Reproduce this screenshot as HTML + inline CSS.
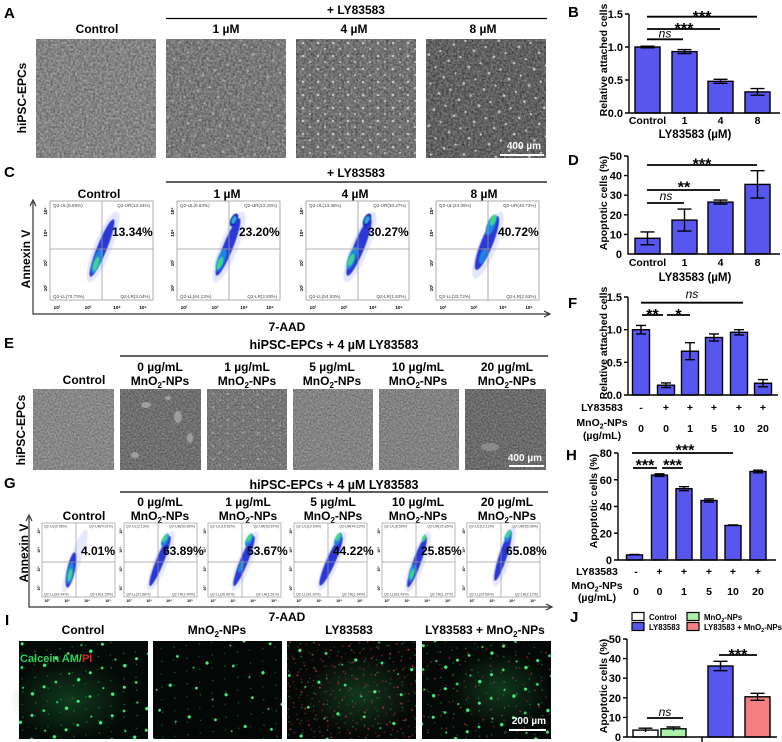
<!DOCTYPE html>
<html><head><meta charset="utf-8"><title>figure</title>
<style>
html,body{margin:0;padding:0;background:#fff}
svg{display:block}
text{font-family:"Liberation Sans",Arial,Helvetica,sans-serif;font-weight:bold;fill:#000}
.hd{font-size:12px}
.hd2{font-size:12.5px}
.pl{font-size:15px}
.tk{font-size:11px}
.xl{font-size:10.5px}
.yl{font-size:10.5px}
.ns{font-size:12px;font-style:italic;font-weight:normal}
.st{font-size:16px}
.q{font-size:4.6px;font-weight:normal;fill:#444}
.q2{font-size:3.6px;font-weight:normal;fill:#444}
.ti{font-size:4.6px;font-weight:normal;fill:#555}
.ti2{font-size:3.6px;font-weight:normal;fill:#555}
.pc{font-size:12px}
.pc2{font-size:12px}
.sb{font-size:10px;fill:#fff}
.lg{font-size:7.8px}
</style></head><body>
<svg width="782" height="742" viewBox="0 0 782 742" xmlns="http://www.w3.org/2000/svg">
<defs>
<filter id="nz" x="0" y="0" width="1" height="1" color-interpolation-filters="sRGB">
<feTurbulence type="fractalNoise" baseFrequency="0.45" numOctaves="2" seed="3"/>
<feColorMatrix type="matrix" values="1.6 0 0 0 -0.3  1.6 0 0 0 -0.3  1.6 0 0 0 -0.3  0 0 0 0 0.28"/>
</filter>
<filter id="nz2" x="0" y="0" width="1" height="1" color-interpolation-filters="sRGB">
<feTurbulence type="fractalNoise" baseFrequency="0.6" numOctaves="2" seed="7"/>
<feColorMatrix type="matrix" values="1.6 0 0 0 -0.3  1.6 0 0 0 -0.3  1.6 0 0 0 -0.3  0 0 0 0 0.25"/>
</filter>
<filter id="bl" x="-20%" y="-20%" width="140%" height="140%"><feGaussianBlur stdDeviation="0.6"/></filter>
<pattern id="wd" width="15" height="13" patternUnits="userSpaceOnUse">
<circle cx="3" cy="4" r="1.3" fill="#e6e6e6"/><circle cx="10" cy="10" r="1.1" fill="#d2d2d2"/><circle cx="12" cy="2" r="0.8" fill="#222"/>
</pattern>
<pattern id="wd2" width="21" height="17" patternUnits="userSpaceOnUse" patternTransform="rotate(17)">
<circle cx="6" cy="12" r="1.4" fill="#dcdcdc"/><circle cx="16" cy="5" r="1.1" fill="#eee"/><circle cx="2" cy="3" r="0.8" fill="#1a1a1a"/>
</pattern>
<pattern id="ga" width="37" height="31" patternUnits="userSpaceOnUse" patternTransform="rotate(23)">
<circle cx="5" cy="6" r="1.7" fill="#3df27a"/><circle cx="22" cy="17" r="1.4" fill="#33e56a"/><circle cx="31" cy="4" r="1.1" fill="#2bd060"/><circle cx="13" cy="26" r="1.5" fill="#45f585"/>
</pattern>
<pattern id="gc" width="43" height="37" patternUnits="userSpaceOnUse" patternTransform="rotate(-31)">
<circle cx="8" cy="9" r="1.6" fill="#3df27a"/><circle cx="29" cy="25" r="1.4" fill="#40f080"/><circle cx="37" cy="6" r="1.0" fill="#2bd060"/>
</pattern>
<pattern id="gb" width="17" height="19" patternUnits="userSpaceOnUse" patternTransform="rotate(41)">
<circle cx="3" cy="4" r="0.7" fill="#1c8a3a"/><circle cx="12" cy="13" r="0.8" fill="#23a048"/>
</pattern>
<pattern id="ra" width="13" height="11" patternUnits="userSpaceOnUse" patternTransform="rotate(29)">
<circle cx="2" cy="3" r="0.8" fill="#c53030"/><circle cx="8" cy="8" r="0.7" fill="#a82828"/>
</pattern>
<pattern id="rb" width="19" height="17" patternUnits="userSpaceOnUse" patternTransform="rotate(-13)">
<circle cx="5" cy="11" r="0.9" fill="#e04040"/><circle cx="14" cy="3" r="0.8" fill="#b83434"/>
</pattern>
<radialGradient id="hz"><stop offset="0" stop-color="#1d6a30" stop-opacity=".5"/><stop offset="1" stop-color="#1d6a30" stop-opacity="0"/></radialGradient>
</defs>
<rect width="782" height="742" fill="#fff"/>

<!-- ===== Panel A ===== -->
<text class="pl" x="4" y="18">A</text>
<text class="hd" x="356" y="14" text-anchor="middle">+ LY83583</text>
<line x1="166" y1="18.5" x2="547" y2="18.5" stroke="#000" stroke-width="1.2"/>
<g class="hd" text-anchor="middle">
<text x="97" y="33">Control</text><text x="226" y="33">1 µM</text><text x="354" y="33">4 µM</text><text x="483" y="33">8 µM</text>
</g>
<text class="hd" transform="translate(26,98) rotate(-90)" text-anchor="middle">hiPSC-EPCs</text>
<rect x="36" y="39" width="120" height="119" fill="#858585"/><rect x="36" y="39" width="120" height="119" filter="url(#nz)"/>
<rect x="166" y="39" width="120" height="119" fill="#767676"/><rect x="166" y="39" width="120" height="119" filter="url(#nz)"/>
<rect x="166" y="39" width="120" height="119" fill="url(#wd2)" opacity=".4"/>
<rect x="296" y="39" width="120" height="119" fill="#6c6c6c"/><rect x="296" y="39" width="120" height="119" filter="url(#nz)"/>
<rect x="296" y="39" width="120" height="119" fill="url(#wd)" opacity=".7"/>
<rect x="426" y="39" width="120" height="119" fill="#545454"/><rect x="426" y="39" width="120" height="119" filter="url(#nz)"/>
<rect x="426" y="39" width="120" height="119" fill="url(#wd2)" opacity=".75"/>
<text class="sb" x="541" y="149" text-anchor="end">400 µm</text>
<line x1="500" y1="155" x2="544" y2="155" stroke="#fff" stroke-width="2"/>

<!-- ===== Panel C ===== -->
<text class="pl" x="4" y="177">C</text>
<text class="hd" x="356" y="177" text-anchor="middle">+ LY83583</text>
<line x1="166" y1="182" x2="547" y2="182" stroke="#000" stroke-width="1.2"/>
<g class="hd" text-anchor="middle">
<text x="99" y="198">Control</text><text x="227" y="198">1 µM</text><text x="355" y="198">4 µM</text><text x="484" y="198">8 µM</text>
</g>
<path d="M33,202V314H549" fill="none" stroke="#333" stroke-width="1.2"/>
<path d="M30,206L33,200L36,206M544,311L550,314L544,317" fill="none" stroke="#333" stroke-width="1.2"/>
<text class="hd" transform="translate(30,259) rotate(-90)" text-anchor="middle">Annexin V</text>
<text class="hd" x="287" y="331" text-anchor="middle">7-AAD</text>

<g transform="translate(50,201)">
<rect width="103" height="99" fill="#fff" stroke="#999" stroke-width=".8"/>
<g filter="url(#bl)">
<ellipse cx="53" cy="46" rx="9" ry="38" transform="rotate(22 53 46)" fill="#a3aeff" opacity=".3"/>
<ellipse cx="52" cy="47" rx="5" ry="31" transform="rotate(22 52 47)" fill="#2b38d8"/>
<ellipse cx="47" cy="60" rx="3.8" ry="13" transform="rotate(20 47 60)" fill="#1f86e0"/>
<ellipse cx="46" cy="63" rx="2.4" ry="7.5" transform="rotate(20 46 63)" fill="#3fd68a"/>
</g>
<path d="M52,0V99M0,48H103" stroke="#9a9a9a" stroke-width=".8"/>
<text class="q" x="3" y="6">Q2-UL(9.89%)</text><text class="q" x="100" y="6" text-anchor="end">Q2-UR(13.34%)</text>
<text class="q" x="3" y="97">Q2-LL(73.73%)</text><text class="q" x="100" y="97" text-anchor="end">Q2-LR(3.04%)</text>
<text class="pc" x="62" y="35">13.34%</text>
<g class="ti" text-anchor="middle">
<text transform="translate(-3,10) rotate(-90)">10⁵</text><text transform="translate(-3,32) rotate(-90)">10⁴</text><text transform="translate(-3,62) rotate(-90)">10³</text><text transform="translate(-3,87) rotate(-90)">10²</text>
<text x="7" y="108">10²</text><text x="38" y="108">10³</text><text x="67" y="108">10⁴</text><text x="93" y="108">10⁵</text>
</g>
</g>

<g transform="translate(177,201)">
<rect width="103" height="99" fill="#fff" stroke="#999" stroke-width=".8"/>
<g filter="url(#bl)">
<ellipse cx="52" cy="46" rx="9" ry="38" transform="rotate(22 52 46)" fill="#a3aeff" opacity=".3"/>
<ellipse cx="51" cy="46" rx="5" ry="31" transform="rotate(22 51 46)" fill="#2b38d8"/>
<ellipse cx="44" cy="59" rx="3.8" ry="12" transform="rotate(20 44 59)" fill="#1f86e0"/>
<ellipse cx="43" cy="62" rx="2.4" ry="6.5" transform="rotate(20 43 62)" fill="#3fd68a"/>
<ellipse cx="57" cy="19" rx="3.5" ry="7" transform="rotate(25 57 19)" fill="#1626c0"/>
<ellipse cx="57" cy="19" rx="2" ry="4" transform="rotate(25 57 19)" fill="#2fb0d0"/>
</g>
<path d="M52,0V99M0,48H103" stroke="#9a9a9a" stroke-width=".8"/>
<text class="q" x="3" y="6">Q2-UL(9.83%)</text><text class="q" x="100" y="6" text-anchor="end">Q2-UR(23.20%)</text>
<text class="q" x="3" y="97">Q2-LL(64.13%)</text><text class="q" x="100" y="97" text-anchor="end">Q2-LR(2.83%)</text>
<text class="pc" x="62" y="35">23.20%</text>
<g class="ti" text-anchor="middle">
<text transform="translate(-3,10) rotate(-90)">10⁵</text><text transform="translate(-3,32) rotate(-90)">10⁴</text><text transform="translate(-3,62) rotate(-90)">10³</text><text transform="translate(-3,87) rotate(-90)">10²</text>
<text x="7" y="108">10²</text><text x="38" y="108">10³</text><text x="67" y="108">10⁴</text><text x="93" y="108">10⁵</text>
</g>
</g>

<g transform="translate(306,201)">
<rect width="103" height="99" fill="#fff" stroke="#999" stroke-width=".8"/>
<g filter="url(#bl)">
<ellipse cx="54" cy="46" rx="9" ry="38" transform="rotate(22 54 46)" fill="#a3aeff" opacity=".3"/>
<ellipse cx="53" cy="46" rx="5.5" ry="31" transform="rotate(22 53 46)" fill="#2b38d8"/>
<ellipse cx="46" cy="57" rx="3.8" ry="12" transform="rotate(20 46 57)" fill="#1f86e0"/>
<ellipse cx="45" cy="59" rx="2.4" ry="6.5" transform="rotate(20 45 59)" fill="#3fd68a"/>
<ellipse cx="61" cy="19" rx="3.5" ry="7" transform="rotate(25 61 19)" fill="#1626c0"/>
<ellipse cx="61" cy="19" rx="2" ry="4" transform="rotate(25 61 19)" fill="#2fb0d0"/>
</g>
<path d="M52,0V99M0,48H103" stroke="#9a9a9a" stroke-width=".8"/>
<text class="q" x="3" y="6">Q2-UL(13.38%)</text><text class="q" x="100" y="6" text-anchor="end">Q2-UR(30.27%)</text>
<text class="q" x="3" y="97">Q2-LL(54.53%)</text><text class="q" x="100" y="97" text-anchor="end">Q2-LR(1.82%)</text>
<text class="pc" x="62" y="35">30.27%</text>
<g class="ti" text-anchor="middle">
<text transform="translate(-3,10) rotate(-90)">10⁵</text><text transform="translate(-3,32) rotate(-90)">10⁴</text><text transform="translate(-3,62) rotate(-90)">10³</text><text transform="translate(-3,87) rotate(-90)">10²</text>
<text x="7" y="108">10²</text><text x="38" y="108">10³</text><text x="67" y="108">10⁴</text><text x="93" y="108">10⁵</text>
</g>
</g>

<g transform="translate(436,201)">
<rect width="103" height="99" fill="#fff" stroke="#999" stroke-width=".8"/>
<g filter="url(#bl)">
<ellipse cx="52" cy="44" rx="9" ry="36" transform="rotate(22 52 44)" fill="#a3aeff" opacity=".3"/>
<ellipse cx="51" cy="42" rx="6" ry="29" transform="rotate(22 51 42)" fill="#2b38d8"/>
<ellipse cx="55" cy="24" rx="4" ry="11" transform="rotate(22 55 24)" fill="#1f86e0"/>
<ellipse cx="57" cy="19" rx="2.6" ry="6" transform="rotate(22 57 19)" fill="#3fd68a"/>
<ellipse cx="47" cy="55" rx="3" ry="8" transform="rotate(20 47 55)" fill="#1f86e0"/>
</g>
<path d="M52,0V99M0,48H103" stroke="#9a9a9a" stroke-width=".8"/>
<text class="q" x="3" y="6">Q2-UL(23.05%)</text><text class="q" x="100" y="6" text-anchor="end">Q2-UR(40.72%)</text>
<text class="q" x="3" y="97">Q2-LL(33.72%)</text><text class="q" x="100" y="97" text-anchor="end">Q2-LR(2.52%)</text>
<text class="pc" x="62" y="35">40.72%</text>
<g class="ti" text-anchor="middle">
<text transform="translate(-3,10) rotate(-90)">10⁵</text><text transform="translate(-3,32) rotate(-90)">10⁴</text><text transform="translate(-3,62) rotate(-90)">10³</text><text transform="translate(-3,87) rotate(-90)">10²</text>
<text x="7" y="108">10²</text><text x="38" y="108">10³</text><text x="67" y="108">10⁴</text><text x="93" y="108">10⁵</text>
</g>
</g>

<!-- ===== Panel E ===== -->
<text class="pl" x="4" y="348">E</text>
<text class="hd2" x="334" y="349" text-anchor="middle">hiPSC-EPCs + 4 µM LY83583</text>
<line x1="120" y1="356" x2="548" y2="356" stroke="#000" stroke-width="1.2"/>
<g class="hd" text-anchor="middle">
<text x="84" y="384">Control</text>
<text x="160" y="371">0 µg/mL</text><text x="160" y="385">MnO<tspan font-size="8" dy="3">2</tspan><tspan dy="-3">-NPs</tspan></text>
<text x="247" y="371">1 µg/mL</text><text x="247" y="385">MnO<tspan font-size="8" dy="3">2</tspan><tspan dy="-3">-NPs</tspan></text>
<text x="332" y="371">5 µg/mL</text><text x="332" y="385">MnO<tspan font-size="8" dy="3">2</tspan><tspan dy="-3">-NPs</tspan></text>
<text x="418" y="371">10 µg/mL</text><text x="418" y="385">MnO<tspan font-size="8" dy="3">2</tspan><tspan dy="-3">-NPs</tspan></text>
<text x="507" y="371">20 µg/mL</text><text x="507" y="385">MnO<tspan font-size="8" dy="3">2</tspan><tspan dy="-3">-NPs</tspan></text>
</g>
<text class="hd" transform="translate(25,430) rotate(-90)" text-anchor="middle">hiPSC-EPCs</text>
<rect x="33" y="389" width="81" height="81" fill="#898989"/><rect x="33" y="389" width="81" height="81" filter="url(#nz2)"/>
<rect x="120" y="389" width="81" height="81" fill="#6a6a6a"/><rect x="120" y="389" width="81" height="81" filter="url(#nz2)"/>
<g fill="#b0b0b0" opacity=".7"><ellipse cx="146" cy="405" rx="5" ry="3"/><ellipse cx="178" cy="417" rx="4" ry="6"/><ellipse cx="190" cy="438" rx="3" ry="5"/><ellipse cx="135" cy="455" rx="4" ry="3"/><ellipse cx="168" cy="398" rx="3" ry="2"/></g>
<rect x="207" y="389" width="80" height="81" fill="#747474"/><rect x="207" y="389" width="80" height="81" filter="url(#nz2)"/>
<rect x="207" y="389" width="80" height="81" fill="url(#wd)" opacity=".3"/>
<rect x="293" y="389" width="80" height="81" fill="#858585"/><rect x="293" y="389" width="80" height="81" filter="url(#nz2)"/>
<rect x="379" y="389" width="80" height="81" fill="#838383"/><rect x="379" y="389" width="80" height="81" filter="url(#nz2)"/>
<rect x="465" y="389" width="81" height="81" fill="#646464"/><rect x="465" y="389" width="81" height="81" filter="url(#nz2)"/>
<ellipse cx="490" cy="447" rx="9" ry="4" fill="#aaa" opacity=".5"/>
<text class="sb" x="542" y="461" text-anchor="end">400 µm</text>
<line x1="509" y1="466" x2="544" y2="466" stroke="#fff" stroke-width="2"/>

<!-- ===== Panel G ===== -->
<text class="pl" x="4" y="488">G</text>
<text class="hd2" x="334" y="489" text-anchor="middle">hiPSC-EPCs + 4 µM LY83583</text>
<line x1="120" y1="492" x2="548" y2="492" stroke="#000" stroke-width="1.2"/>
<g class="hd" text-anchor="middle">
<text x="84" y="520">Control</text>
<text x="160" y="506">0 µg/mL</text><text x="160" y="520">MnO<tspan font-size="8" dy="3">2</tspan><tspan dy="-3">-NPs</tspan></text>
<text x="248" y="506">1 µg/mL</text><text x="248" y="520">MnO<tspan font-size="8" dy="3">2</tspan><tspan dy="-3">-NPs</tspan></text>
<text x="333" y="506">5 µg/mL</text><text x="333" y="520">MnO<tspan font-size="8" dy="3">2</tspan><tspan dy="-3">-NPs</tspan></text>
<text x="418" y="506">10 µg/mL</text><text x="418" y="520">MnO<tspan font-size="8" dy="3">2</tspan><tspan dy="-3">-NPs</tspan></text>
<text x="507" y="506">20 µg/mL</text><text x="507" y="520">MnO<tspan font-size="8" dy="3">2</tspan><tspan dy="-3">-NPs</tspan></text>
</g>
<path d="M29,517V607H551" fill="none" stroke="#333" stroke-width="1.2"/>
<path d="M26,521L29,515L32,521M546,604L552,607L546,610" fill="none" stroke="#333" stroke-width="1.2"/>
<text class="hd" transform="translate(28,553) rotate(-90)" text-anchor="middle">Annexin V</text>
<text class="hd" x="287" y="621" text-anchor="middle">7-AAD</text>

<g transform="translate(42,523)">
<rect width="73" height="74" fill="#fff" stroke="#999" stroke-width=".7"/>
<g filter="url(#bl)">
<ellipse cx="33" cy="38" rx="6" ry="33" transform="rotate(20 33 38)" fill="#a3aeff" opacity=".28"/>
<ellipse cx="29" cy="47" rx="4" ry="18" transform="rotate(12 29 47)" fill="#2b38d8"/>
<ellipse cx="28" cy="50" rx="3" ry="11" transform="rotate(10 28 50)" fill="#1f86e0"/>
<ellipse cx="28" cy="52" rx="2" ry="6.5" transform="rotate(10 28 52)" fill="#3fd68a"/>
</g>
<path d="M34,0V74M0,39H73" stroke="#9a9a9a" stroke-width=".7"/>
<text class="q2" x="2" y="4.5">Q2-UL(0.96%)</text><text class="q2" x="71" y="4.5" text-anchor="end">Q2-UR(4.01%)</text>
<text class="q2" x="2" y="72.5">Q2-LL(93.44%)</text><text class="q2" x="71" y="72.5" text-anchor="end">Q2-LR(1.59%)</text>
<text class="pc2" x="39" y="32">4.01%</text>
<g class="ti2" text-anchor="middle"><text transform="translate(-2,8) rotate(-90)">10⁵</text><text transform="translate(-2,27) rotate(-90)">10⁴</text><text transform="translate(-2,46) rotate(-90)">10³</text><text transform="translate(-2,65) rotate(-90)">10²</text><text x="5" y="79">10²</text><text x="25" y="79">10³</text><text x="45" y="79">10⁴</text><text x="66" y="79">10⁵</text></g>
</g>

<g transform="translate(124,523)">
<rect width="73" height="74" fill="#fff" stroke="#999" stroke-width=".7"/>
<g filter="url(#bl)">
<ellipse cx="37" cy="38" rx="7" ry="32" transform="rotate(22 37 38)" fill="#a3aeff" opacity=".28"/>
<ellipse cx="36" cy="38" rx="4" ry="27" transform="rotate(22 36 38)" fill="#2b38d8"/>
<ellipse cx="41" cy="17" rx="3" ry="7" transform="rotate(25 41 17)" fill="#1f86e0"/>
<ellipse cx="41" cy="15" rx="2" ry="4.5" transform="rotate(25 41 15)" fill="#3fd68a"/>
</g>
<path d="M34,0V74M0,39H73" stroke="#9a9a9a" stroke-width=".7"/>
<text class="q2" x="2" y="4.5">Q2-UL(2.13%)</text><text class="q2" x="71" y="4.5" text-anchor="end">Q2-UR(63.89%)</text>
<text class="q2" x="2" y="72.5">Q2-LL(31.58%)</text><text class="q2" x="71" y="72.5" text-anchor="end">Q2-LR(2.40%)</text>
<text class="pc2" x="39" y="32">63.89%</text>
<g class="ti2" text-anchor="middle"><text transform="translate(-2,8) rotate(-90)">10⁵</text><text transform="translate(-2,27) rotate(-90)">10⁴</text><text transform="translate(-2,46) rotate(-90)">10³</text><text transform="translate(-2,65) rotate(-90)">10²</text><text x="5" y="79">10²</text><text x="25" y="79">10³</text><text x="45" y="79">10⁴</text><text x="66" y="79">10⁵</text></g>
</g>

<g transform="translate(208,523)">
<rect width="73" height="74" fill="#fff" stroke="#999" stroke-width=".7"/>
<g filter="url(#bl)">
<ellipse cx="37" cy="38" rx="7" ry="32" transform="rotate(22 37 38)" fill="#a3aeff" opacity=".28"/>
<ellipse cx="36" cy="38" rx="4" ry="27" transform="rotate(22 36 38)" fill="#2b38d8"/>
<ellipse cx="33" cy="44" rx="2.2" ry="6" transform="rotate(20 33 44)" fill="#1f86e0"/>
<ellipse cx="41" cy="17" rx="3" ry="7" transform="rotate(25 41 17)" fill="#1f86e0"/>
<ellipse cx="41" cy="15" rx="2" ry="4.5" transform="rotate(25 41 15)" fill="#3fd68a"/>
</g>
<path d="M34,0V74M0,39H73" stroke="#9a9a9a" stroke-width=".7"/>
<text class="q2" x="2" y="4.5">Q2-UL(16.82%)</text><text class="q2" x="71" y="4.5" text-anchor="end">Q2-UR(53.67%)</text>
<text class="q2" x="2" y="72.5">Q2-LL(26.80%)</text><text class="q2" x="71" y="72.5" text-anchor="end">Q2-LR(1.51%)</text>
<text class="pc2" x="39" y="32">53.67%</text>
<g class="ti2" text-anchor="middle"><text transform="translate(-2,8) rotate(-90)">10⁵</text><text transform="translate(-2,27) rotate(-90)">10⁴</text><text transform="translate(-2,46) rotate(-90)">10³</text><text transform="translate(-2,65) rotate(-90)">10²</text><text x="5" y="79">10²</text><text x="25" y="79">10³</text><text x="45" y="79">10⁴</text><text x="66" y="79">10⁵</text></g>
</g>

<g transform="translate(294,523)">
<rect width="73" height="74" fill="#fff" stroke="#999" stroke-width=".7"/>
<g filter="url(#bl)">
<ellipse cx="38" cy="38" rx="7" ry="32" transform="rotate(24 38 38)" fill="#a3aeff" opacity=".28"/>
<ellipse cx="37" cy="38" rx="4.5" ry="27" transform="rotate(24 37 38)" fill="#2b38d8"/>
<ellipse cx="44" cy="16" rx="3" ry="7" transform="rotate(25 44 16)" fill="#1f86e0"/>
<ellipse cx="44" cy="14" rx="2" ry="4.5" transform="rotate(25 44 14)" fill="#3fd68a"/>
</g>
<path d="M34,0V74M0,39H73" stroke="#9a9a9a" stroke-width=".7"/>
<text class="q2" x="2" y="4.5">Q2-UL(10.64%)</text><text class="q2" x="71" y="4.5" text-anchor="end">Q2-UR(44.22%)</text>
<text class="q2" x="2" y="72.5">Q2-LL(43.10%)</text><text class="q2" x="71" y="72.5" text-anchor="end">Q2-LR(1.64%)</text>
<text class="pc2" x="39" y="32">44.22%</text>
<g class="ti2" text-anchor="middle"><text transform="translate(-2,8) rotate(-90)">10⁵</text><text transform="translate(-2,27) rotate(-90)">10⁴</text><text transform="translate(-2,46) rotate(-90)">10³</text><text transform="translate(-2,65) rotate(-90)">10²</text><text x="5" y="79">10²</text><text x="25" y="79">10³</text><text x="45" y="79">10⁴</text><text x="66" y="79">10⁵</text></g>
</g>

<g transform="translate(382,523)">
<rect width="73" height="74" fill="#fff" stroke="#999" stroke-width=".7"/>
<g filter="url(#bl)">
<ellipse cx="36" cy="39" rx="7" ry="32" transform="rotate(20 36 39)" fill="#a3aeff" opacity=".28"/>
<ellipse cx="35" cy="39" rx="4" ry="27" transform="rotate(20 35 39)" fill="#2b38d8"/>
<ellipse cx="30" cy="50" rx="3" ry="9" transform="rotate(15 30 50)" fill="#1f86e0"/>
<ellipse cx="30" cy="51" rx="1.8" ry="5.5" transform="rotate(15 30 51)" fill="#3fd68a"/>
<ellipse cx="42" cy="15" rx="1.8" ry="4" transform="rotate(25 42 15)" fill="#3fd68a"/>
</g>
<path d="M34,0V74M0,39H73" stroke="#9a9a9a" stroke-width=".7"/>
<text class="q2" x="2" y="4.5">Q2-UL(8.59%)</text><text class="q2" x="71" y="4.5" text-anchor="end">Q2-UR(25.85%)</text>
<text class="q2" x="2" y="72.5">Q2-LL(63.43%)</text><text class="q2" x="71" y="72.5" text-anchor="end">Q2-LR(1.37%)</text>
<text class="pc2" x="39" y="32">25.85%</text>
<g class="ti2" text-anchor="middle"><text transform="translate(-2,8) rotate(-90)">10⁵</text><text transform="translate(-2,27) rotate(-90)">10⁴</text><text transform="translate(-2,46) rotate(-90)">10³</text><text transform="translate(-2,65) rotate(-90)">10²</text><text x="5" y="79">10²</text><text x="25" y="79">10³</text><text x="45" y="79">10⁴</text><text x="66" y="79">10⁵</text></g>
</g>

<g transform="translate(467,523)">
<rect width="73" height="74" fill="#fff" stroke="#999" stroke-width=".7"/>
<g filter="url(#bl)">
<ellipse cx="37" cy="34" rx="7" ry="31" transform="rotate(18 37 34)" fill="#a3aeff" opacity=".28"/>
<ellipse cx="36" cy="33" rx="4" ry="26" transform="rotate(18 36 33)" fill="#2b38d8"/>
<ellipse cx="41" cy="13" rx="3" ry="6.5" transform="rotate(22 41 13)" fill="#1f86e0"/>
<ellipse cx="41" cy="11" rx="2" ry="4.5" transform="rotate(22 41 11)" fill="#3fd68a"/>
</g>
<path d="M34,0V74M0,39H73" stroke="#9a9a9a" stroke-width=".7"/>
<text class="q2" x="2" y="4.5">Q2-UL(12.12%)</text><text class="q2" x="71" y="4.5" text-anchor="end">Q2-UR(65.08%)</text>
<text class="q2" x="2" y="72.5">Q2-LL(20.68%)</text><text class="q2" x="71" y="72.5" text-anchor="end">Q2-LR(2.12%)</text>
<text class="pc2" x="39" y="32">65.08%</text>
<g class="ti2" text-anchor="middle"><text transform="translate(-2,8) rotate(-90)">10⁵</text><text transform="translate(-2,27) rotate(-90)">10⁴</text><text transform="translate(-2,46) rotate(-90)">10³</text><text transform="translate(-2,65) rotate(-90)">10²</text><text x="5" y="79">10²</text><text x="25" y="79">10³</text><text x="45" y="79">10⁴</text><text x="66" y="79">10⁵</text></g>
</g>

<!-- ===== Panel I ===== -->
<text class="pl" x="5" y="625">I</text>
<g class="hd" text-anchor="middle">
<text x="83" y="634">Control</text>
<text x="217" y="634">MnO<tspan font-size="8" dy="3">2</tspan><tspan dy="-3">-NPs</tspan></text>
<text x="349" y="634">LY83583</text>
<text x="485" y="634">LY83583 + MnO<tspan font-size="8" dy="3">2</tspan><tspan dy="-3">-NPs</tspan></text>
</g>
<rect x="19" y="641" width="129" height="98" fill="#040a07"/>
<ellipse cx="70" cy="700" rx="60" ry="40" fill="url(#hz)"/>
<rect x="19" y="641" width="129" height="98" fill="url(#gb)" opacity=".7"/>
<rect x="19" y="641" width="129" height="98" fill="url(#ga)"/>
<text x="20" y="662" font-size="11px"><tspan fill="#2bd35a">Calcein AM/</tspan><tspan fill="#e02020">PI</tspan></text>

<rect x="153" y="641" width="129" height="98" fill="#030806"/>
<rect x="153" y="641" width="129" height="98" fill="url(#gb)" opacity=".6"/>
<rect x="153" y="641" width="129" height="98" fill="url(#gc)"/>

<rect x="287" y="641" width="129" height="98" fill="#060807"/>
<ellipse cx="360" cy="695" rx="55" ry="40" fill="url(#hz)"/>
<rect x="287" y="641" width="129" height="98" fill="url(#ra)" opacity=".6"/>
<rect x="287" y="641" width="129" height="98" fill="url(#rb)" opacity=".8"/>
<rect x="287" y="641" width="129" height="98" fill="url(#gb)" opacity=".8"/>
<rect x="287" y="641" width="129" height="98" fill="url(#gc)"/>

<rect x="422" y="641" width="129" height="98" fill="#040907"/>
<ellipse cx="500" cy="690" rx="50" ry="38" fill="url(#hz)"/>
<rect x="422" y="641" width="129" height="98" fill="url(#rb)" opacity=".6"/>
<rect x="422" y="641" width="129" height="98" fill="url(#gb)" opacity=".7"/>
<rect x="422" y="641" width="129" height="98" fill="url(#ga)"/>
<text class="sb" x="546" y="724" text-anchor="end">200 µm</text>
<line x1="509" y1="730" x2="546" y2="730" stroke="#fff" stroke-width="2"/>

<!-- ===== Panel B ===== -->
<text class="pl" x="568" y="17">B</text>
<text class="yl" transform="translate(607,60) rotate(-90)" text-anchor="middle">Relative attached cells</text>
<g fill="#5757ef" stroke="#000" stroke-width="1.4">
<rect x="635" y="47" width="25" height="66"/><rect x="672" y="51.6" width="25" height="61.4"/><rect x="708" y="81.3" width="25" height="31.7"/><rect x="745" y="91.9" width="25" height="21.1"/>
</g>
<path d="M629,14V113H780M625,14H629M625,47H629M625,80H629M625,113H629" fill="none" stroke="#000" stroke-width="1.4"/>
<path d="M647.5,46.2V47.8M640.5,46.2H654.5M640.5,47.8H654.5M684.5,49.6V53.6M677.5,49.6H691.5M677.5,53.6H691.5M720.5,79.3V83.3M713.5,79.3H727.5M713.5,83.3H727.5M757.5,88.6V95.2M750.5,88.6H764.5M750.5,95.2H764.5" fill="none" stroke="#000" stroke-width="1.4"/>
<g class="tk" text-anchor="end"><text x="623" y="18">1.5</text><text x="623" y="51">1.0</text><text x="623" y="84">0.5</text><text x="623" y="117">0.0</text></g>
<g class="xl" text-anchor="middle"><text x="647.5" y="124">Control</text><text x="684.5" y="124">1</text><text x="720.5" y="124">4</text><text x="757.5" y="124">8</text></g>
<text class="tk" x="695" y="138" text-anchor="middle" style="font-size:11.5px">LY83583  (µM)</text>
<path d="M647,16.7H757M647,29H720M647,39.3H683" stroke="#000" stroke-width="1.8"/>
<text class="st" x="702" y="22" text-anchor="middle">***</text>
<text class="st" x="684" y="34" text-anchor="middle">***</text>
<text class="ns" x="665" y="37.5" text-anchor="middle">ns</text>

<!-- ===== Panel D ===== -->
<text class="pl" x="568" y="165">D</text>
<text class="yl" transform="translate(607,203) rotate(-90)" text-anchor="middle">Apoptotic cells  (%)</text>
<g fill="#5757ef" stroke="#000" stroke-width="1.4">
<rect x="635" y="238.3" width="25" height="15.7"/><rect x="672" y="220.1" width="25" height="33.9"/><rect x="708" y="202.1" width="25" height="51.9"/><rect x="745" y="184.4" width="25" height="69.6"/>
</g>
<path d="M628,156V254H780M624,156H628M624,175.6H628M624,195.2H628M624,214.8H628M624,234.4H628" fill="none" stroke="#000" stroke-width="1.4"/>
<path d="M647.5,231.9V244.8M640.5,231.9H654.5M640.5,244.8H654.5M684.5,209.1V231.1M677.5,209.1H691.5M677.5,231.1H691.5M720.5,200.1V204M713.5,200.1H727.5M713.5,204H727.5M757.5,170.7V198.1M750.5,170.7H764.5M750.5,198.1H764.5" fill="none" stroke="#000" stroke-width="1.4"/>
<g class="tk" text-anchor="end"><text x="622" y="160">50</text><text x="622" y="179.6">40</text><text x="622" y="199.2">30</text><text x="622" y="218.8">20</text><text x="622" y="238.4">10</text><text x="622" y="258">0</text></g>
<g class="xl" text-anchor="middle"><text x="647.5" y="266">Control</text><text x="684.5" y="266">1</text><text x="720.5" y="266">4</text><text x="757.5" y="266">8</text></g>
<text class="tk" x="695" y="281" text-anchor="middle" style="font-size:11.5px">LY83583  (µM)</text>
<path d="M647,165H757M647,190H720M647,203H684" stroke="#000" stroke-width="1.8"/>
<text class="st" x="702" y="169.5" text-anchor="middle">***</text>
<text class="st" x="684" y="192.5" text-anchor="middle">**</text>
<text class="ns" x="666" y="200" text-anchor="middle">ns</text>

<!-- ===== Panel F ===== -->
<text class="pl" x="568" y="308">F</text>
<text class="yl" transform="translate(607,343) rotate(-90)" text-anchor="middle">Relative attached cells</text>
<g fill="#5757ef" stroke="#000" stroke-width="1.4">
<rect x="632.5" y="329.7" width="17" height="65.3"/><rect x="657.5" y="385.2" width="17" height="9.8"/><rect x="681.5" y="351.2" width="17" height="43.8"/><rect x="705.5" y="337.5" width="17" height="57.5"/><rect x="730.5" y="332.3" width="17" height="62.7"/><rect x="754.5" y="383.2" width="17" height="11.8"/>
</g>
<path d="M628,297V395H778M624,297H628M624,329.7H628M624,362.3H628M624,395H628" fill="none" stroke="#000" stroke-width="1.4"/>
<path d="M641,325.4V333.9M636,325.4H646M636,333.9H646M666,382.9V387.5M661,382.9H671M661,387.5H671M690,342.7V359.7M685,342.7H695M685,359.7H695M714,333.9V341.1M709,333.9H719M709,341.1H719M739,329.7V334.9M734,329.7H744M734,334.9H744M763,379.6V386.8M758,379.6H768M758,386.8H768" fill="none" stroke="#000" stroke-width="1.4"/>
<g class="tk" text-anchor="end"><text x="622" y="301">1.5</text><text x="622" y="333.7">1.0</text><text x="622" y="366.3">0.5</text><text x="622" y="399">0.0</text></g>
<path d="M641,302.7H743M642,315H663M667,315H690" stroke="#000" stroke-width="1.8"/>
<text class="ns" x="692" y="298" text-anchor="middle">ns</text>
<text class="st" x="652.5" y="320" text-anchor="middle">**</text>
<text class="st" x="678.5" y="320" text-anchor="middle">*</text>
<g class="xl" text-anchor="middle">
<text x="602" y="411">LY83583</text>
<text x="641" y="411">-</text><text x="666" y="411">+</text><text x="690" y="411">+</text><text x="714" y="411">+</text><text x="739" y="411">+</text><text x="763" y="411">+</text>
<text x="602" y="426">MnO<tspan font-size="7" dy="2.5">2</tspan><tspan dy="-2.5">-NPs</tspan></text>
<text x="602" y="439">(µg/mL)</text>
<text x="641" y="432">0</text><text x="666" y="432">0</text><text x="690" y="432">1</text><text x="714" y="432">5</text><text x="739" y="432">10</text><text x="763" y="432">20</text>
</g>

<!-- ===== Panel H ===== -->
<text class="pl" x="566" y="460">H</text>
<text class="yl" transform="translate(597,501) rotate(-90)" text-anchor="middle">Apoptotic cells (%)</text>
<g fill="#5757ef" stroke="#000" stroke-width="1.4">
<rect x="626.5" y="554.9" width="16" height="5.1"/><rect x="651.5" y="475.1" width="16" height="84.9"/><rect x="676" y="488.7" width="16" height="71.3"/><rect x="701" y="500.5" width="16" height="59.5"/><rect x="725" y="525.5" width="16" height="34.5"/><rect x="750" y="471.5" width="16" height="88.5"/>
</g>
<path d="M618,453V560H776M614,453H618M614,479.75H618M614,506.5H618M614,533.25H618M614,560H618" fill="none" stroke="#000" stroke-width="1.4"/>
<path d="M634.5,554.4V555.4M629.5,554.4H639.5M659.5,473.8V476.4M654.5,473.8H664.5M654.5,476.4H664.5M684,486.7V490.7M679,486.7H689M679,490.7H689M709,498.9V502.1M704,498.9H714M704,502.1H714M733,525V526M728,525H738M758,470.2V472.8M753,470.2H763M753,472.8H763" fill="none" stroke="#000" stroke-width="1.4"/>
<g class="tk" text-anchor="end"><text x="612" y="457">80</text><text x="612" y="483.75">60</text><text x="612" y="510.5">40</text><text x="612" y="537.25">20</text><text x="612" y="564">0</text></g>
<path d="M632,453H733M633,468H657M662,468H683" stroke="#000" stroke-width="1.8"/>
<text class="st" x="685" y="455.5" text-anchor="middle">***</text>
<text class="st" x="645" y="470.5" text-anchor="middle">***</text>
<text class="st" x="672.5" y="470.5" text-anchor="middle">***</text>
<g class="xl" text-anchor="middle">
<text x="597" y="575">LY83583</text>
<text x="636" y="575">-</text><text x="659.5" y="575">+</text><text x="684" y="575">+</text><text x="709" y="575">+</text><text x="733" y="575">+</text><text x="758" y="575">+</text>
<text x="597" y="589">MnO<tspan font-size="7" dy="2.5">2</tspan><tspan dy="-2.5">-NPs</tspan></text>
<text x="597" y="601">(µg/mL)</text>
<text x="636" y="595">0</text><text x="659.5" y="595">0</text><text x="684" y="595">1</text><text x="709" y="595">5</text><text x="733" y="595">10</text><text x="758" y="595">20</text>
</g>

<!-- ===== Panel J ===== -->
<text class="pl" x="570" y="622">J</text>
<rect x="632" y="612.5" width="12" height="8" fill="#fff" stroke="#000" stroke-width="1.2"/>
<text class="lg" x="649" y="620">Control</text>
<rect x="687" y="612.5" width="12" height="8" fill="#aaf0aa" stroke="#000" stroke-width="1.2"/>
<text class="lg" x="704" y="620">MnO<tspan font-size="5.5" dy="2">2</tspan><tspan dy="-2">-NPs</tspan></text>
<rect x="632" y="622.5" width="12" height="8" fill="#5757ef" stroke="#000" stroke-width="1.2"/>
<text class="lg" x="649" y="630">LY83583</text>
<rect x="687" y="622.5" width="12" height="8" fill="#f28080" stroke="#000" stroke-width="1.2"/>
<text class="lg" x="704" y="630">LY83583 + MnO<tspan font-size="5.5" dy="2">2</tspan><tspan dy="-2">-NPs</tspan></text>
<text class="yl" transform="translate(607,686) rotate(-90)" text-anchor="middle">Apoptotic cells  (%)</text>
<g stroke="#000" stroke-width="1.4">
<rect x="633" y="730.1" width="25" height="6.9" fill="#fff"/><rect x="661" y="728.8" width="25" height="8.2" fill="#aaf0aa"/><rect x="708" y="666" width="25" height="71" fill="#5757ef"/><rect x="745" y="696.8" width="25" height="40.2" fill="#f28080"/>
</g>
<path d="M627,639V737H777M702,737V742M623,639H627M623,658.6H627M623,678.2H627M623,697.8H627M623,717.4H627M623,737H627" fill="none" stroke="#000" stroke-width="1.4"/>
<path d="M645.5,728.2V732M638.5,728.2H652.5M673.5,727V730.6M666.5,727H680.5M720.5,661.3V670.7M713.5,661.3H727.5M713.5,670.7H727.5M757.5,693.3V700.3M750.5,693.3H764.5M750.5,700.3H764.5" fill="none" stroke="#000" stroke-width="1.4"/>
<g class="tk" text-anchor="end"><text x="621" y="643">50</text><text x="621" y="662.6">40</text><text x="621" y="682.2">30</text><text x="621" y="701.8">20</text><text x="621" y="721.4">10</text><text x="621" y="741">0</text></g>
<path d="M647,718H683M719,655H757" stroke="#000" stroke-width="1.8"/>
<text class="ns" x="665" y="716" text-anchor="middle">ns</text>
<text class="st" x="738" y="660" text-anchor="middle">***</text>
</svg>
</body></html>
